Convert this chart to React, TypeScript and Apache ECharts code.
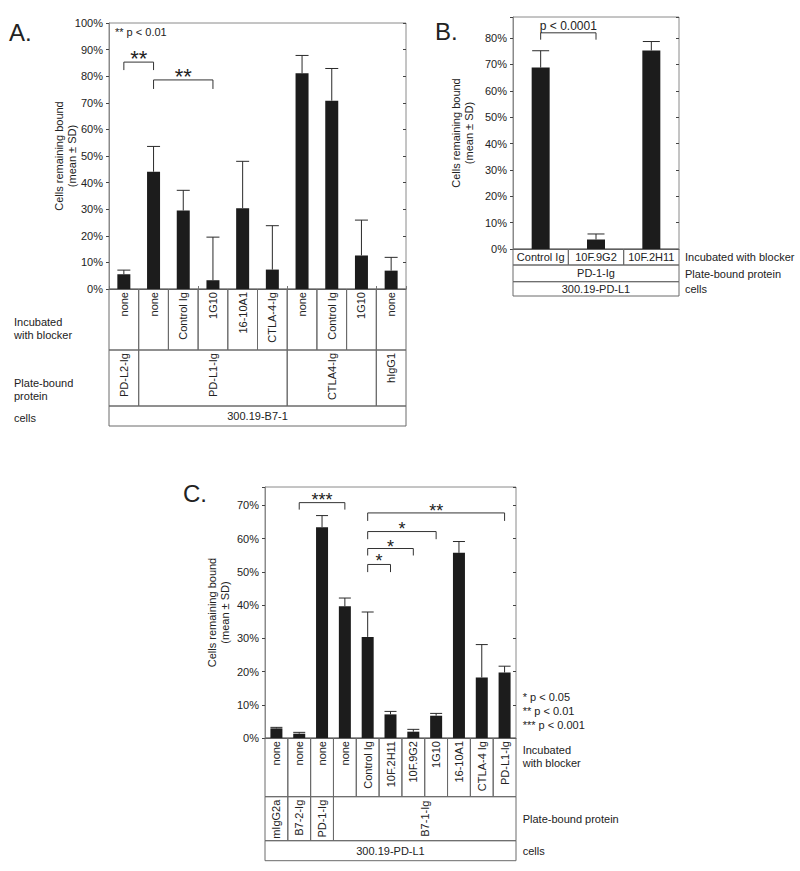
import React, { useEffect, useRef } from "react";
import * as echarts from "echarts";

// ---------------- Panel A ----------------
const aBlockers = ["none", "none", "Control Ig", "1G10", "16-10A1", "CTLA-4-Ig", "none", "Control Ig", "1G10", "none"];
const aMeans = [5.5, 44.1, 29.5, 3.3, 30.4, 7.3, 81.1, 70.8, 12.6, 6.9];
const aUpper = [7.1, 53.6, 37.1, 19.5, 48.0, 23.8, 87.8, 82.9, 25.9, 11.9];
const aProteins = ["PD-L2-Ig", "PD-L1-Ig", "CTLA4-Ig", "hIgG1"];
const aProteinSpans = [[0, 0], [1, 5], [6, 8], [9, 9]];
const aCellLine = "300.19-B7-1";
const aBrackets = [
  { from: 0, to: 1, top: 85.3, leg: 82.3, label: "**", labelAt: 86.6 },
  { from: 1, to: 3, top: 78.6, leg: 75.2, label: "**", labelAt: 79.8 },
];

// ---------------- Panel B ----------------
const bBlockers = ["Control Ig", "10F.9G2", "10F.2H11"];
const bMeans = [68.8, 3.6, 75.3];
const bUpper = [75.2, 5.7, 78.7];
const bProteins = ["PD-1-Ig"];
const bProteinSpans = [[0, 2]];
const bCellLine = "300.19-PD-L1";
const bBrackets = [{ from: 0, to: 1, top: 82.0, leg: 79.4, label: "p < 0.0001", labelAt: 84.6 }];

// ---------------- Panel C ----------------
const cBlockers = ["none", "none", "none", "none", "Control Ig", "10F.2H11", "10F.9G2", "1G10", "16-10A1", "CTLA-4 Ig", "PD-L1-Ig"];
const cMeans = [2.9, 1.3, 63.4, 39.6, 30.4, 7.1, 1.9, 6.7, 55.7, 18.2, 19.7];
const cUpper = [3.2, 1.7, 66.9, 42.1, 37.9, 8.0, 2.6, 7.4, 59.1, 28.1, 21.6];
const cProteins = ["mIgG2a", "B7-2-Ig", "PD-1-Ig", "B7-1-Ig"];
const cProteinSpans = [[0, 0], [1, 1], [2, 2], [3, 10]];
const cCellLine = "300.19-PD-L1";
const cBrackets = [
  { from: 1, to: 3, top: 70.8, leg: 68.7, label: "***", labelAt: 71.6 },
  { from: 4, to: 10, top: 67.7, leg: 65.3, label: "**", labelAt: 68.3 },
  { from: 4, to: 7, top: 62.1, leg: 59.8, label: "*", labelAt: 62.8 },
  { from: 4, to: 6, top: 57.0, leg: 54.9, label: "*", labelAt: 57.6 },
  { from: 4, to: 5, top: 52.2, leg: 49.9, label: "*", labelAt: 53.1 },
];

const yAxisTitle = "Cells remaining bound\n(mean ± SD)";
const FONT = "'Liberation Sans', Arial, Helvetica, sans-serif";
const TXT = "#222222";
const AXIS = "#8a8a8a";
const LINE = "#6a6a6a";

function buildCells(blockers: string[], proteins: string[], spans: number[][], cellLine: string) {
  const cells: number[][] = [];
  const labels: string[] = [];
  blockers.forEach((b, i) => {
    cells.push([i, i, 0]);
    labels.push(b);
  });
  proteins.forEach((p, k) => {
    cells.push([spans[k][0], spans[k][1], 1]);
    labels.push(p);
  });
  cells.push([0, blockers.length - 1, 2]);
  labels.push(cellLine);
  return { cells, labels };
}

function textStyle(text: string, size: number, align: string, vAlign: string) {
  return {
    text,
    fill: TXT,
    fontSize: size,
    fontFamily: FONT,
    align,
    textAlign: align,
    verticalAlign: vAlign,
    textVerticalAlign: vAlign,
  };
}

function tableSeries(gi: number, blockers: string[], proteins: string[], spans: number[][], cellLine: string, rowHeights: number[], vertical: boolean[]) {
  const { cells, labels } = buildCells(blockers, proteins, spans, cellLine);
  return {
    type: "custom",
    xAxisIndex: gi,
    yAxisIndex: gi,
    clip: false,
    silent: true,
    z: 1,
    data: cells,
    renderItem: (params: any, api: any) => {
      const s = api.value(0);
      const e = api.value(1);
      const r = api.value(2);
      const band = api.size([1, 0])[0];
      const x0 = api.coord([s, 0])[0] - band / 2;
      const x1 = api.coord([e, 0])[0] + band / 2;
      const base = api.coord([0, 0])[1];
      let y0 = base;
      for (let k = 0; k < r; k++) y0 += rowHeights[k];
      const h = rowHeights[r];
      const label = labels[params.dataIndex];
      const children: any[] = [
        { type: "rect", shape: { x: x0, y: y0, width: x1 - x0, height: h }, style: { fill: "none", stroke: LINE, lineWidth: 1 } },
      ];
      if (vertical[r]) {
        const centered = e - s >= 6;
        children.push({
          type: "text",
          x: (x0 + x1) / 2,
          y: centered ? y0 + h / 2 : y0 + 3,
          rotation: Math.PI / 2,
          style: textStyle(label, 11, centered ? "center" : "right", "middle"),
        });
      } else {
        children.push({ type: "text", x: (x0 + x1) / 2, y: y0 + h / 2, style: textStyle(label, 11, "center", "middle") });
      }
      return { type: "group", children };
    },
  };
}

function errorSeries(gi: number, means: number[], upper: number[], cap: number) {
  return {
    type: "custom",
    xAxisIndex: gi,
    yAxisIndex: gi,
    silent: true,
    z: 3,
    data: means.map((m, i) => [i, m, upper[i]]),
    renderItem: (params: any, api: any) => {
      const p0 = api.coord([api.value(0), api.value(1)]);
      const p1 = api.coord([api.value(0), api.value(2)]);
      const st = { stroke: "#2a2a2a", lineWidth: 1 };
      return {
        type: "group",
        children: [
          { type: "line", shape: { x1: p0[0], y1: p0[1], x2: p1[0], y2: p1[1] }, style: st },
          { type: "line", shape: { x1: p1[0] - cap / 2, y1: p1[1], x2: p1[0] + cap / 2, y2: p1[1] }, style: st },
        ],
      };
    },
  };
}

function bracketSeries(gi: number, brackets: any[], fontSize: number) {
  return {
    type: "custom",
    xAxisIndex: gi,
    yAxisIndex: gi,
    silent: true,
    z: 4,
    data: brackets.map((b) => [b.from, b.top, b.to, b.leg, b.labelAt]),
    renderItem: (params: any, api: any) => {
      const b = brackets[params.dataIndex];
      const p1 = api.coord([api.value(0), api.value(3)]);
      const p2 = api.coord([api.value(0), api.value(1)]);
      const p3 = api.coord([api.value(2), api.value(1)]);
      const p4 = api.coord([api.value(2), api.value(3)]);
      const ty = api.coord([api.value(0), api.value(4)])[1];
      return {
        type: "group",
        children: [
          { type: "polyline", shape: { points: [p1, p2, p3, p4] }, style: { stroke: "#333", lineWidth: 1, fill: "none" } },
          { type: "text", x: (p2[0] + p3[0]) / 2, y: ty, style: textStyle(b.label, fontSize, "center", "middle") },
        ],
      };
    },
  };
}

function barSeries(gi: number, means: number[], width: number) {
  return {
    type: "bar",
    xAxisIndex: gi,
    yAxisIndex: gi,
    data: means,
    barWidth: width,
    silent: true,
    z: 2,
    itemStyle: { color: "#1c1c1c" },
  };
}

function yLeft(gi: number, max: number, gap: number) {
  return {
    type: "value",
    gridIndex: gi,
    min: 0,
    max,
    interval: 10,
    position: "left",
    axisLine: { show: true, lineStyle: { color: AXIS } },
    axisTick: { show: true, length: 3, lineStyle: { color: "#444" } },
    axisLabel: {
      margin: 6,
      fontSize: 11,
      color: TXT,
      fontFamily: FONT,
      formatter: (v: number) => (v % 10 === 0 ? v + "%" : ""),
    },
    splitLine: { show: false },
    name: yAxisTitle,
    nameLocation: "middle",
    nameGap: gap,
    nameMoveOverlap: false,
    nameTextStyle: { fontSize: 11, color: TXT, fontFamily: FONT, lineHeight: 13 },
  };
}

function yRight(gi: number, max: number) {
  return {
    type: "value",
    gridIndex: gi,
    min: 0,
    max,
    interval: 10,
    position: "right",
    axisLine: { show: false },
    axisTick: { show: true, inside: true, length: 3, lineStyle: { color: "#444" } },
    axisLabel: { show: false },
    splitLine: { show: false },
  };
}

function xBottom(gi: number, cats: string[]) {
  return {
    type: "category",
    gridIndex: gi,
    data: cats,
    position: "bottom",
    axisLine: { show: true, lineStyle: { color: "#555" } },
    axisTick: { show: false },
    axisLabel: { show: false },
    splitLine: { show: false },
  };
}

function xTop(gi: number, cats: string[], showTicks: boolean, alignWithLabel: boolean) {
  return {
    type: "category",
    gridIndex: gi,
    data: cats,
    position: "top",
    axisLine: { show: false },
    axisTick: { show: showTicks, length: 3, alignWithLabel, lineStyle: { color: "#777" } },
    axisLabel: { show: false },
    splitLine: { show: false },
  };
}

function gText(text: string, x: number, y: number, size: number, align = "left", lineHeight?: number) {
  const st: any = textStyle(text, size, align, "middle");
  if (lineHeight) st.lineHeight = lineHeight;
  return { type: "text", x, y, style: st, silent: true };
}

export default function App() {
  const ref = useRef<HTMLDivElement>(null);
  useEffect(() => {
    if (!ref.current) return;
    const chart = echarts.init(ref.current, undefined, { renderer: "svg" });
    const gridStyle = { show: true, borderColor: AXIS, borderWidth: 1, backgroundColor: "transparent", containLabel: false };
    const option: any = {
      animation: false,
      backgroundColor: "#ffffff",
      grid: [
        { left: 109, top: 23, width: 297, height: 266, ...gridStyle },
        { left: 513, top: 17, width: 166, height: 232, ...gridStyle },
        { left: 265, top: 487, width: 251, height: 251, ...gridStyle },
      ],
      xAxis: [
        xBottom(0, aBlockers),
        xBottom(1, bBlockers),
        xBottom(2, cBlockers),
        xTop(0, aBlockers, true, false),
        xTop(1, bBlockers, false, false),
        xTop(2, cBlockers, true, true),
      ],
      yAxis: [
        yLeft(0, 100, 31),
        yLeft(1, 88, 38),
        yLeft(2, 75.5, 34),
        yRight(0, 100),
        yRight(1, 88),
        yRight(2, 75.5),
      ],
      series: [
        barSeries(0, aMeans, 13),
        errorSeries(0, aMeans, aUpper, 13),
        bracketSeries(0, aBrackets, 22),
        tableSeries(0, aBlockers, aProteins, aProteinSpans, aCellLine, [61, 56, 20], [true, true, false]),
        barSeries(1, bMeans, 18),
        errorSeries(1, bMeans, bUpper, 17),
        bracketSeries(1, bBrackets, 12),
        tableSeries(1, bBlockers, bProteins, bProteinSpans, bCellLine, [16, 16.7, 14.3], [false, false, false]),
        barSeries(2, cMeans, 12),
        errorSeries(2, cMeans, cUpper, 12),
        bracketSeries(2, cBrackets, 18),
        tableSeries(2, cBlockers, cProteins, cProteinSpans, cCellLine, [58.7, 44, 20], [true, true, false]),
      ],
      graphic: [
        gText("A.", 9, 32, 24),
        gText("B.", 435, 31.5, 24),
        gText("C.", 183, 493.5, 24),
        gText("** p < 0.01", 115, 32, 11),
        gText("Incubated\nwith blocker", 14, 328.5, 11, "left", 13),
        gText("Plate-bound\nprotein", 14, 389, 11, "left", 13),
        gText("cells", 14, 418, 11),
        gText("Incubated with blocker", 685, 257, 11),
        gText("Plate-bound protein", 685, 273.5, 11),
        gText("cells", 685, 289, 11),
        gText("* p < 0.05", 522.7, 697, 11),
        gText("** p < 0.01", 522.7, 711, 11),
        gText("*** p < 0.001", 522.7, 724.5, 11),
        gText("Incubated\nwith blocker", 522.7, 756, 11, "left", 13),
        gText("Plate-bound protein", 522.7, 819.3, 11),
        gText("cells", 522.7, 851, 11),
      ],
    };
    chart.setOption(option);
    return () => chart.dispose();
  }, []);
  return (
    <div
      ref={ref}
      style={{ position: "absolute", left: 0, top: 0, width: 800, height: 871, background: "#fff" }}
    />
  );
}
